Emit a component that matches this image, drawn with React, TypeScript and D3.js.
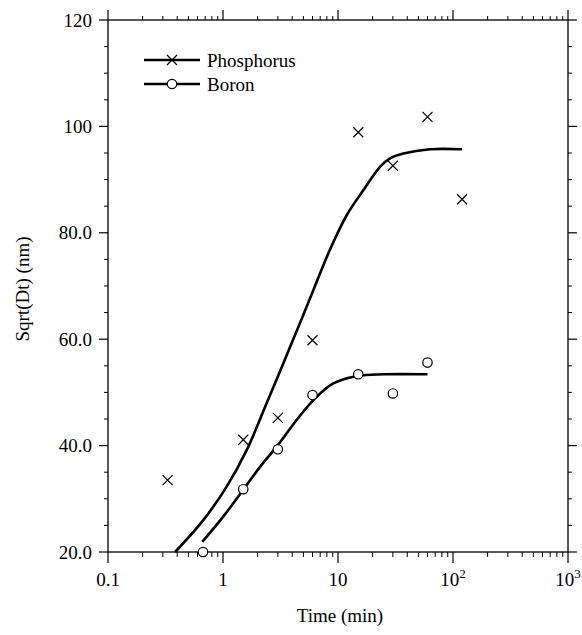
import React from "react";
import * as d3 from "d3";

const phosTime = [0.33, 1.5, 3, 6, 15, 30, 60, 120];
const phosValue = [33.5, 41.1, 45.2, 59.8, 98.9, 92.6, 101.8, 86.3];

const boronTime = [0.67, 1.5, 3, 6, 15, 30, 60];
const boronValue = [20.0, 31.8, 39.3, 49.5, 53.4, 49.8, 55.6];

const phosFitTime = [0.383, 0.674, 1.076, 1.61, 2.4, 3.35, 4.83, 6.1, 8.5, 11.9, 16.6, 23.2, 28.3, 37, 63, 120];
const phosFitValue = [20.0, 26.0, 32.3, 39.2, 48.0, 55.5, 63.8, 69.2, 76.8, 83.3, 88.0, 92.4, 94.0, 94.9, 95.7, 95.7];

const boronFitTime = [0.66, 1.0, 1.5, 2.1, 2.93, 4.4, 6.2, 9.1, 14.8, 24.8, 60];
const boronFitValue = [21.9, 26.6, 31.7, 36.0, 39.8, 44.9, 48.7, 51.7, 53.1, 53.4, 53.4];

const yTicks = [20, 40, 60, 80, 100, 120];
const yTickLabels = ["20.0", "40.0", "60.0", "80.0", "100", "120"];
const xTicks = [0.1, 1, 10, 100, 1000];
const xTickBase = ["0.1", "1", "10", "10", "10"];
const xTickSup = ["", "", "", "2", "3"];

const seriesNames = ["Phosphorus", "Boron"];

const W = 582;
const H = 635;
const L = 108, R = 568, T = 20, B = 552;
const FONT = "Liberation Serif, Times New Roman, DejaVu Serif, serif";
const txt = { fontFamily: FONT };
const FS = 19;

export default function App() {
  const x = d3.scaleLog().domain([0.1, 1000]).range([L, R]);
  const y = d3.scaleLinear().domain([20, 120]).range([B, T]);

  const line = d3
    .line<[number, number]>()
    .x((d) => x(d[0]))
    .y((d) => y(d[1]))
    .curve(d3.curveCatmullRom.alpha(0.5));

  const phosFit = phosFitTime.map((t, i) => [t, phosFitValue[i]] as [number, number]);
  const boronFit = boronFitTime.map((t, i) => [t, boronFitValue[i]] as [number, number]);

  const minorX: number[] = [];
  for (let dec = 0.1; dec < 1000; dec *= 10) {
    for (let k = 2; k <= 9; k++) minorX.push(dec * k);
  }
  const minorY = d3.range(25, 120, 5).filter((v) => v % 20 !== 0);

  const cross = (cx: number, cy: number, key: string, s = 5) => (
    <path
      key={key}
      d={`M${cx - s},${cy - s}L${cx + s},${cy + s}M${cx - s},${cy + s}L${cx + s},${cy - s}`}
      stroke="#000"
      strokeWidth={1.2}
      fill="none"
    />
  );

  const circ = (cx: number, cy: number, key: string) => (
    <circle key={key} cx={cx} cy={cy} r={4.7} fill="#fff" stroke="#000" strokeWidth={1.2} />
  );

  return (
    <svg
      width={W}
      height={H}
      style={{ position: "absolute", left: 0, top: 0, background: "#fff", fontFamily: FONT }}
    >
      <rect x={0} y={0} width={W} height={H} fill="#fff" />
      <rect x={L} y={T} width={R - L} height={B - T} fill="none" stroke="#000" strokeWidth={1.3} />

      {xTicks.map((t, i) => (
        <g key={"xt" + i}>
          <line x1={x(t)} x2={x(t)} y1={B} y2={B + 11} stroke="#000" strokeWidth={1.2} />
          <line x1={x(t)} x2={x(t)} y1={T} y2={T - 10} stroke="#000" strokeWidth={1.2} />
          <text x={x(t)} y={586} fontSize={FS} textAnchor="middle" style={txt}>
            {xTickBase[i]}
            {xTickSup[i] && (
              <tspan dy={-8} fontSize={13}>
                {xTickSup[i]}
              </tspan>
            )}
          </text>
        </g>
      ))}
      {minorX.map((t, i) => (
        <g key={"xm" + i}>
          <line x1={x(t)} x2={x(t)} y1={B} y2={B + 5} stroke="#000" strokeWidth={1} />
          <line x1={x(t)} x2={x(t)} y1={T} y2={T - 4} stroke="#000" strokeWidth={1} />
        </g>
      ))}

      {yTicks.map((v, i) => (
        <g key={"yt" + i}>
          <line x1={L} x2={L - 9} y1={y(v)} y2={y(v)} stroke="#000" strokeWidth={1.2} />
          <line x1={R} x2={R + 9} y1={y(v)} y2={y(v)} stroke="#000" strokeWidth={1.2} />
          <text x={92} y={y(v)} dy="0.35em" fontSize={FS} textAnchor="end" style={txt}>
            {yTickLabels[i]}
          </text>
        </g>
      ))}
      {minorY.map((v, i) => (
        <g key={"ym" + i}>
          <line x1={L} x2={L - 4} y1={y(v)} y2={y(v)} stroke="#000" strokeWidth={1} />
          <line x1={R} x2={R + 4} y1={y(v)} y2={y(v)} stroke="#000" strokeWidth={1} />
        </g>
      ))}

      <text x={340} y={622} fontSize={FS} textAnchor="middle" style={txt}>
        Time (min)
      </text>
      <text transform={`translate(29,289) rotate(-90)`} fontSize={FS} textAnchor="middle" style={txt}>
        Sqrt(Dt) (nm)
      </text>

      <path d={line(phosFit) || ""} fill="none" stroke="#000" strokeWidth={2.6} />
      <path d={line(boronFit) || ""} fill="none" stroke="#000" strokeWidth={2.6} />

      {phosTime.map((t, i) => cross(x(t), y(phosValue[i]), "p" + i))}
      {boronTime.map((t, i) => circ(x(t), y(boronValue[i]), "b" + i))}

      <line x1={144} x2={200} y1={60} y2={60} stroke="#000" strokeWidth={2.6} />
      {cross(172, 60, "lp")}
      <text x={207} y={67} fontSize={FS} style={txt}>
        {seriesNames[0]}
      </text>
      <line x1={144} x2={200} y1={84} y2={84} stroke="#000" strokeWidth={2.6} />
      {circ(172, 84, "lb")}
      <text x={207} y={91} fontSize={FS} style={txt}>
        {seriesNames[1]}
      </text>
    </svg>
  );
}
